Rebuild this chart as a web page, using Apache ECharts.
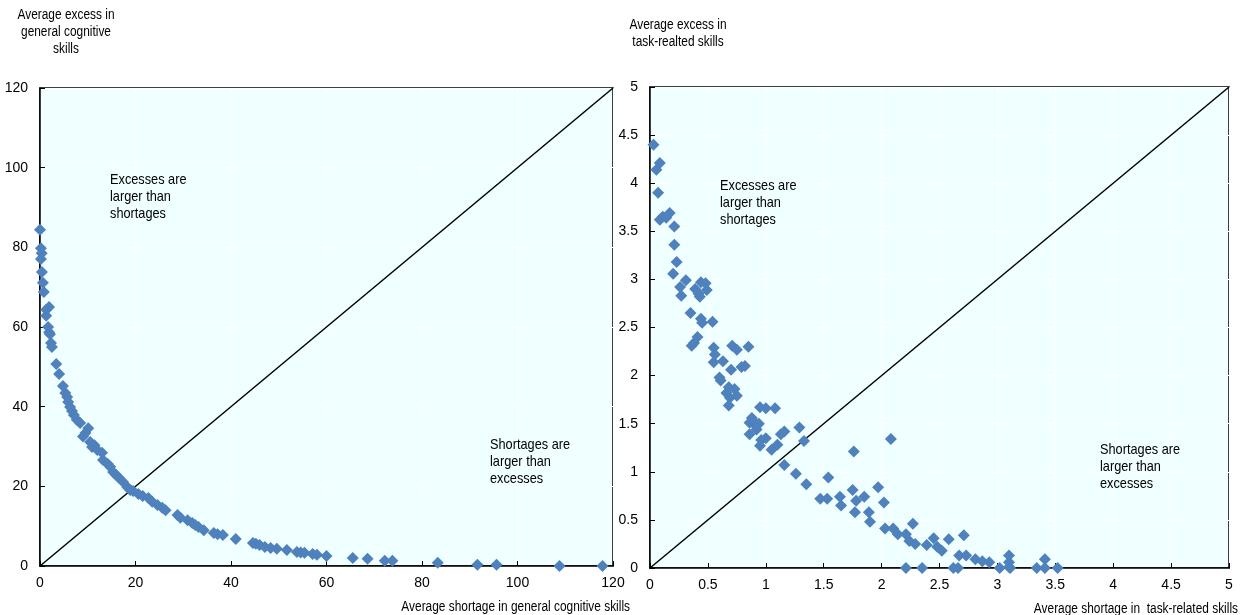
<!DOCTYPE html>
<html>
<head>
<meta charset="utf-8">
<script src="https://cdn.jsdelivr.net/npm/echarts@6/dist/echarts.min.js"></script>
<style>
html,body{margin:0;padding:0;background:#fff;}
#chart{width:1246px;height:615px;}
</style>
</head>
<body>
<div id="chart"></div>
<script>
// Left panel: general cognitive skills (shortage, excess)
var cognitivePoints = [
  [0,84.4],[0.2,79.8],[0.35,78.5],[0.2,77.1],[0.4,73.8],[0.6,71.1],[0.8,68.8],[1.9,65.0],[1.3,64.3],[1.3,62.8],
  [1.7,60.0],[1.9,58.7],[2.1,58.2],[2.3,56.0],[2.5,55.0],[3.4,50.7],[4.0,48.2],[4.8,45.2],[5.3,43.4],[5.7,42.4],
  [5.9,41.2],[6.3,39.9],[6.7,38.9],[7.1,37.9],[7.7,36.7],[8.4,35.9],[10.1,34.6],[9.5,33.4],[9.0,32.5],[10.5,31.1],
  [10.9,29.9],[11.4,30.3],[12.0,29.1],[13.0,28.4],[13.2,26.6],[14.2,25.6],[14.7,24.9],[15.3,23.6],[16.0,22.8],[16.4,22.3],
  [17.4,21.1],[18.3,19.8],[18.9,19.1],[19.5,18.8],[20.6,18.1],[21.5,17.6],[22.7,17.1],[23.5,16.1],[24.6,15.3],[25.6,14.6],
  [26.3,14.0],[28.8,12.8],[29.4,12.1],[30.9,11.5],[31.9,10.8],[32.5,10.3],[33.2,9.8],[34.3,9.0],[36.4,8.3],[37.2,8.0],
  [38.3,7.8],[41.0,6.8],[44.6,5.8],[45.2,5.6],[46.0,5.3],[47.1,4.8],[48.3,4.5],[49.6,4.3],[51.7,4.0],[53.8,3.5],
  [54.6,3.4],[55.4,3.3],[57.1,3.0],[58.0,2.8],[60.0,2.5],[65.5,2.0],[68.6,1.8],[72.2,1.3],[73.8,1.3],[83.3,0.8],
  [91.6,0.3],[95.6,0.3],[108.8,0],[117.8,0]
];
// Right panel: task-related skills (shortage, excess)
var taskPoints = [
  [0.03,4.40],[0.085,4.21],[0.055,4.14],[0.07,3.90],[0.085,3.62],[0.11,3.65],[0.17,3.69],[0.14,3.64],[0.21,3.55],[0.21,3.36],
  [0.23,3.18],[0.2,3.06],[0.26,2.92],[0.31,2.99],[0.27,2.83],[0.44,2.97],[0.48,2.96],[0.39,2.90],[0.42,2.85],[0.43,2.82],
  [0.49,2.89],[0.35,2.65],[0.44,2.59],[0.45,2.55],[0.54,2.56],[0.41,2.40],[0.38,2.34],[0.36,2.31],[0.55,2.29],[0.56,2.22],
  [0.55,2.14],[0.63,2.15],[0.71,2.31],[0.75,2.27],[0.85,2.30],[0.70,2.06],[0.79,2.09],[0.82,2.10],[0.60,1.98],[0.61,1.95],
  [0.68,1.88],[0.73,1.86],[0.66,1.82],[0.75,1.79],[0.69,1.77],[0.68,1.69],[0.95,1.67],[1.0,1.66],[1.08,1.66],[0.88,1.56],
  [0.86,1.51],[0.91,1.48],[0.92,1.44],[0.86,1.39],[0.89,1.53],[0.94,1.50],[1.0,1.35],[1.13,1.39],[1.16,1.42],[1.29,1.46],
  [0.96,1.33],[0.95,1.27],[1.05,1.23],[1.10,1.28],[1.33,1.32],[1.16,1.07],[1.26,0.98],[1.35,0.87],[1.54,0.94],[1.76,1.21],
  [2.08,1.34],[1.47,0.72],[1.53,0.72],[1.64,0.74],[1.65,0.65],[1.75,0.81],[1.78,0.70],[1.77,0.58],[1.85,0.74],[1.89,0.58],
  [1.90,0.48],[1.97,0.84],[2.02,0.68],[2.03,0.41],[2.10,0.41],[2.14,0.35],[2.21,0.35],[2.27,0.46],[2.24,0.28],[2.29,0.25],
  [2.39,0.24],[2.45,0.31],[2.48,0.22],[2.52,0.18],[2.58,0.30],[2.71,0.34],[2.67,0.13],[2.73,0.13],[2.81,0.09],[2.87,0.07],
  [2.93,0.06],[2.21,0],[2.35,0],[2.62,0],[2.66,0],[3.02,0],[3.10,0.13],[3.10,0.06],[3.10,0.01],[3.11,0],
  [3.34,0],[3.41,0.09],[3.41,0],[3.52,0]
];
var leftRange = [0, 120];
var leftInterval = 20;
var rightRange = [0, 5];
var rightInterval = 0.5;
var leftDiagonal = [[0,0],[120,120]];
var rightDiagonal = [[0,0],[5,5]];

var FONT = "'Liberation Sans',Arial,sans-serif";
var chart = echarts.init(document.getElementById('chart'), null, {renderer:'canvas'});

function xAx(idx, range, itv){
  return {
    type:'value', gridIndex: idx, min: range[0], max: range[1], interval: itv,
    axisLine:{show:true, onZero:false, lineStyle:{color:'#000', width:1.5}},
    axisTick:{show:true, inside:true, length:5, lineStyle:{color:'#000'}},
    axisLabel:{color:'#000', fontFamily:FONT, fontSize:14, margin:10},
    splitLine:{show:true, lineStyle:{color:'#ffffff', width:1}}
  };
}
function yAx(idx, range, itv){
  return {
    type:'value', gridIndex: idx, min: range[0], max: range[1], interval: itv,
    axisLine:{show:true, onZero:false, lineStyle:{color:'#000', width:1.5}},
    axisTick:{show:true, inside:true, length:5, lineStyle:{color:'#000'}},
    axisLabel:{color:'#000', fontFamily:FONT, fontSize:14, margin:12},
    splitLine:{show:true, lineStyle:{color:'#ffffff', width:1}}
  };
}
function txt(x, y, str, align, size){
  return {type:'text', x:x, y:y, scaleX:0.85, scaleY:1, z:100, zlevel:0, silent:true,
    style:{text: str, fill:'#000', font: size+'px '+FONT, textAlign: align, align: align,
           textVerticalAlign:'top', verticalAlign:'top', lineHeight: 17}};
}

var option = {
  backgroundColor:'#ffffff',
  animation:false,
  grid:[
    {left:40, top:88, width:573, height:478, show:true, backgroundColor:'#F0FFFF', borderColor:'#000', borderWidth:1.5},
    {left:650, top:87, width:579, height:481, show:true, backgroundColor:'#F0FFFF', borderColor:'#000', borderWidth:1.5}
  ],
  xAxis:[xAx(0, leftRange, leftInterval), xAx(1, rightRange, rightInterval)],
  yAxis:[yAx(0, leftRange, leftInterval), yAx(1, rightRange, rightInterval)],
  series:[
    {type:'line', xAxisIndex:0, yAxisIndex:0, data:leftDiagonal, symbol:'none', silent:true,
     lineStyle:{color:'#000', width:1.5}, z:3},
    {type:'line', xAxisIndex:1, yAxisIndex:1, data:rightDiagonal, symbol:'none', silent:true,
     lineStyle:{color:'#000', width:1.5}, z:3},
    {type:'scatter', xAxisIndex:0, yAxisIndex:0, data:cognitivePoints, symbol:'diamond', symbolSize:12,
     itemStyle:{color:'#4F81BD', opacity:1}, z:4},
    {type:'scatter', xAxisIndex:1, yAxisIndex:1, data:taskPoints, symbol:'diamond', symbolSize:12,
     itemStyle:{color:'#4F81BD', opacity:1}, z:4}
  ],
  graphic:[
    txt(66, 7, 'Average excess in\ngeneral cognitive\nskills', 'center', 14),
    txt(678, 17, 'Average excess in\ntask-realted skills', 'center', 14),
    txt(630, 599, 'Average shortage in general cognitive skills', 'right', 14),
    txt(1238, 601, 'Average shortage in  task-related skills', 'right', 14),
    txt(110, 171, 'Excesses are\nlarger than\nshortages', 'left', 15),
    txt(490, 436, 'Shortages are\nlarger than\nexcesses', 'left', 15),
    txt(720, 177, 'Excesses are\nlarger than\nshortages', 'left', 15),
    txt(1100, 441, 'Shortages are\nlarger than\nexcesses', 'left', 15)
  ]
};
chart.setOption(option);
</script>
</body>
</html>
